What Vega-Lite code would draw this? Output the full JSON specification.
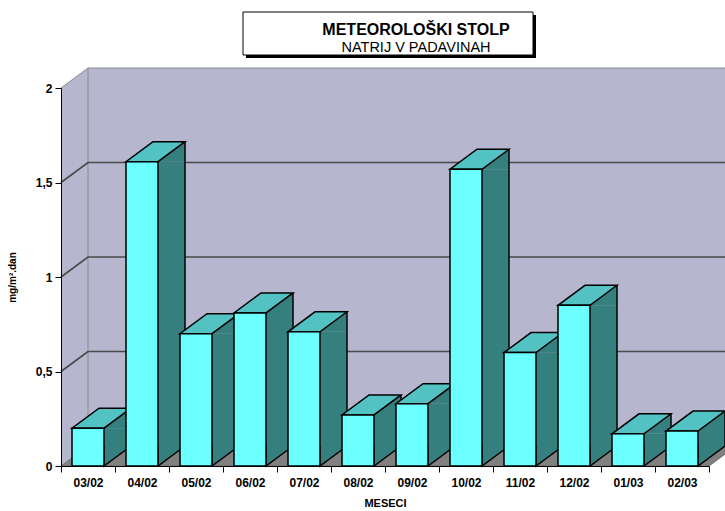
{
  "$schema": "https://vega.github.io/schema/vega-lite/v6.json",
  "width": 648,
  "height": 378,
  "autosize": "none",
  "padding": {"left": 61, "top": 88, "right": 16, "bottom": 45},
  "background": "white",
  "config": {
    "view": {"stroke": null},
    "font": "Liberation Sans",
    "axisX": {
      "titleFont": "Liberation Sans",
      "titleFontSize": 11,
      "titleFontWeight": "bold",
      "titleColor": "#000000",
      "titlePadding": 9,
      "labelAngle": 0,
      "labelFont": "Liberation Sans",
      "labelFontSize": 12,
      "labelFontWeight": "bold",
      "labelColor": "#000000",
      "labelPadding": 5,
      "tickBand": "extent",
      "tickSize": 6,
      "tickColor": "#000000",
      "domainColor": "#000000",
      "grid": false
    },
    "axisY": {
      "titleFont": "Liberation Sans",
      "titleFontSize": 10,
      "titleFontWeight": "bold",
      "titleColor": "#000000",
      "labelFont": "Liberation Sans",
      "labelFontSize": 12,
      "labelFontWeight": "bold",
      "labelColor": "#000000",
      "labelPadding": 3,
      "tickSize": 6,
      "tickColor": "#000000",
      "domainColor": "#000000",
      "grid": false
    }
  },
  "data": {
    "values": [
      {"mesec": "03/02", "v": 0.2},
      {"mesec": "04/02", "v": 1.61},
      {"mesec": "05/02", "v": 0.7},
      {"mesec": "06/02", "v": 0.81},
      {"mesec": "07/02", "v": 0.71},
      {"mesec": "08/02", "v": 0.27},
      {"mesec": "09/02", "v": 0.33},
      {"mesec": "10/02", "v": 1.57},
      {"mesec": "11/02", "v": 0.6},
      {"mesec": "12/02", "v": 0.85},
      {"mesec": "01/03", "v": 0.17},
      {"mesec": "02/03", "v": 0.185}
    ]
  },
  "encoding": {
    "x": {
      "field": "mesec",
      "type": "nominal",
      "sort": null,
      "scale": {"paddingInner": 0, "paddingOuter": 0},
      "axis": {"title": "MESECI", "zindex": 1}
    },
    "y": {
      "field": "v",
      "type": "quantitative",
      "scale": {"domain": [0, 2], "nice": false},
      "axis": {
        "title": "mg/m².dan",
        "titleX": -46,
        "titleY": 189,
        "titleBaseline": "alphabetic",
        "values": [0, 0.5, 1, 1.5, 2],
        "labelExpr": "replace(toString(datum.value), '.', ',')",
        "zindex": 1
      }
    }
  },
  "layer": [
    {
      "transform": [{"filter": "datum.mesec === '03/02'"}],
      "mark": {"type": "point", "filled": true, "opacity": 1, "size": 4, "fill": "#b6b6ce", "strokeWidth": 0,
        "shape": "M -27,0 L -27,-378 L 0,-398 L 648,-398 L 648,-20 L 0,-20 Z"},
      "encoding": {
        "y": {"datum": 0, "type": "quantitative", "axis": {"title": "mg/m².dan"}}
      }
    },
    {
      "transform": [{"filter": "datum.mesec === '03/02'"}],
      "mark": {"type": "point", "filled": false, "opacity": 1, "size": 4, "stroke": "#8c8c8c", "strokeWidth": 1,
        "shape": "M 0,-20 L 0,-398 M -27,-378 L 0,-398 L 648,-398"},
      "encoding": {
        "y": {"datum": 0, "type": "quantitative", "axis": {"title": "mg/m².dan"}}
      }
    },
    {
      "data": {"values": [{"g": 0.5}, {"g": 1}, {"g": 1.5}]},
      "mark": {"type": "point", "filled": false, "opacity": 1, "size": 4, "stroke": "#4a4a4a", "strokeWidth": 1.7,
        "shape": "M -27,0 L 0,-20 L 648,-20"},
      "encoding": {
        "x": {"datum": "03/02", "type": "nominal", "axis": {"title": "MESECI"}},
        "y": {"field": "g", "type": "quantitative", "axis": {"title": "mg/m².dan"}}
      }
    },
    {
      "transform": [{"filter": "datum.mesec === '03/02'"}],
      "mark": {"type": "point", "filled": true, "opacity": 1, "size": 4, "fill": "#808080", "stroke": "#6e6e6e", "strokeWidth": 1,
        "shape": "M -27,0 L 621,0 L 648,-20 L 0,-20 Z"},
      "encoding": {
        "y": {"datum": 0, "type": "quantitative", "axis": {"title": "mg/m².dan"}}
      }
    },
    {
      "mark": {"type": "bar", "opacity": 1, "width": 27, "xOffset": 29.5, "y2Offset": -20, "fill": "#357f7f", "strokeWidth": 0},
      "encoding": {
        "y2": {"datum": 0}
      }
    },
    {
      "mark": {"type": "point", "filled": true, "opacity": 1, "size": 4, "fill": "#357f7f", "strokeWidth": 0,
        "shape": "M 16,0 L 43,-20 L 43,0 Z"}
    },
    {
      "mark": {"type": "point", "filled": true, "opacity": 1, "size": 4, "fill": "#357f7f", "stroke": "#000000", "strokeWidth": 1.5,
        "shape": "M 16,-20 L 16,0 L 43,-20"},
      "encoding": {
        "y": {"datum": 0, "type": "quantitative", "axis": {"title": "mg/m².dan"}}
      }
    },
    {
      "mark": {"type": "rule", "opacity": 1, "xOffset": 43, "yOffset": -20, "y2Offset": -20, "stroke": "#000000", "strokeWidth": 1.5},
      "encoding": {
        "y2": {"datum": 0}
      }
    },
    {
      "mark": {"type": "point", "filled": true, "opacity": 1, "size": 4, "fill": "#52c2c2", "stroke": "#000000", "strokeWidth": 1.5,
        "shape": "M -16,0 L 16,0 L 43,-20 L 11,-20 Z"}
    },
    {
      "mark": {"type": "bar", "opacity": 1, "width": 32, "fill": "#6bffff", "stroke": "#000000", "strokeWidth": 1.5}
    },
    {
      "transform": [{"filter": "datum.mesec === '08/02'"}],
      "mark": {"type": "point", "filled": true, "opacity": 1, "size": 4, "fill": "#000000", "strokeWidth": 0,
        "shape": "M -112,-19 L 178,-19 L 178,24 L -112,24 Z"},
      "encoding": {
        "y": {"datum": 2.2857, "type": "quantitative", "axis": {"title": "mg/m².dan"}}
      }
    },
    {
      "transform": [{"filter": "datum.mesec === '08/02'"}],
      "mark": {"type": "point", "filled": true, "opacity": 1, "size": 4, "fill": "#ffffff", "stroke": "#000000", "strokeWidth": 1,
        "shape": "M -115,-22 L 175,-22 L 175,21 L -115,21 Z"},
      "encoding": {
        "y": {"datum": 2.2857, "type": "quantitative", "axis": {"title": "mg/m².dan"}}
      }
    },
    {
      "transform": [{"filter": "datum.mesec === '08/02'"}],
      "mark": {"type": "text", "text": "METEOROLOŠKI STOLP", "font": "Liberation Sans", "fontSize": 16, "fontWeight": "bold", "color": "#000000", "align": "center", "baseline": "alphabetic", "dx": 58},
      "encoding": {
        "y": {"datum": 2.28, "type": "quantitative", "axis": {"title": "mg/m².dan"}}
      }
    },
    {
      "transform": [{"filter": "datum.mesec === '08/02'"}],
      "mark": {"type": "text", "text": "NATRIJ V PADAVINAH", "font": "Liberation Sans", "fontSize": 14.5, "color": "#000000", "align": "center", "baseline": "alphabetic", "dx": 58},
      "encoding": {
        "y": {"datum": 2.19, "type": "quantitative", "axis": {"title": "mg/m².dan"}}
      }
    }
  ]
}
